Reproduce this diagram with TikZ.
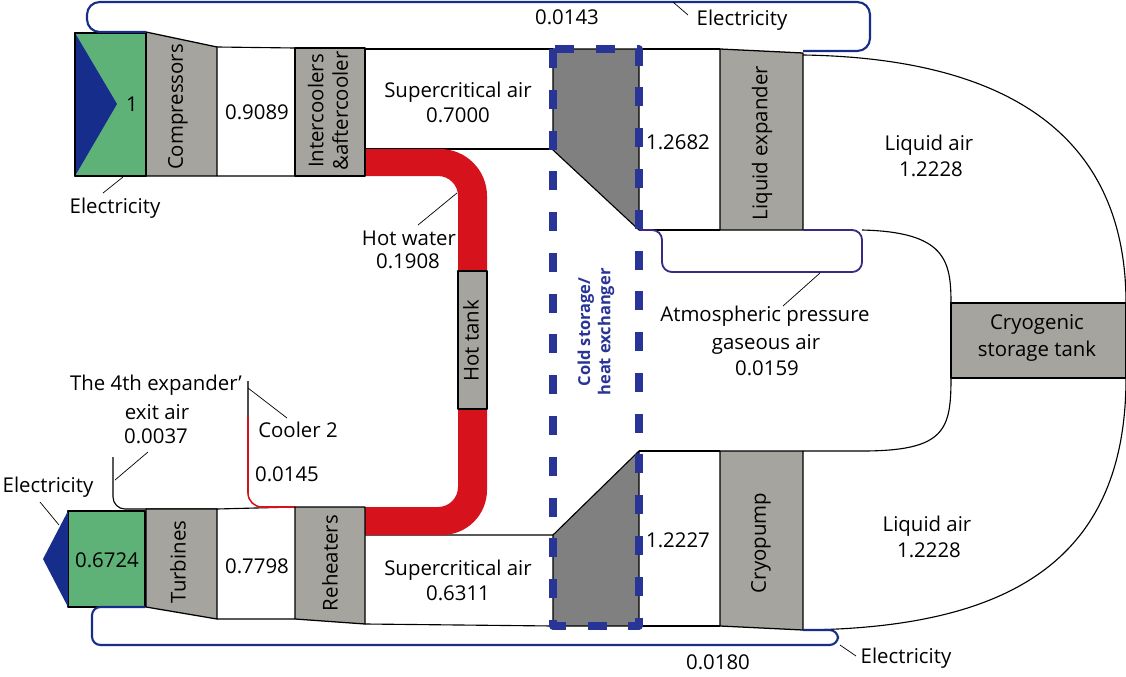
\documentclass[tikz,border=0pt]{standalone}
\usepackage{fontspec}
\setmainfont{Open Sans}
\definecolor{genGreen}{RGB}{94,178,120}
\definecolor{elecBlue}{RGB}{22,45,140}
\definecolor{unitGray}{RGB}{166,164,158}
\definecolor{hxGray}{RGB}{128,128,128}
\definecolor{hotRed}{RGB}{214,18,28}
\definecolor{coldBlue}{RGB}{40,52,150}
\definecolor{atmBlue}{RGB}{58,40,130}
\tikzset{
  flow/.style={draw=black, line width=0.8pt},
  unit/.style={fill=unitGray, draw=black, line width=0.9pt},
  gen/.style={fill=genGreen, draw=black, line width=0.9pt},
  hx/.style={fill=hxGray, draw=black, line width=0.8pt},
  hotpipe/.style={fill=hotRed},
  coolline/.style={draw=hotRed, line width=1.1pt},
  coldbox/.style={draw=coldBlue, line width=5pt, dash pattern=on 13.5pt off 15.5pt},
  elecline/.style={draw=elecBlue, line width=1.5pt},
  atmline/.style={draw=atmBlue, line width=1.3pt},
  leader/.style={draw=black, line width=0.5pt},
  lbl/.style={inner sep=0pt, align=center},
  vlbl/.style={lbl, rotate=90}
}
\begin{document}
\begin{tikzpicture}[x=0.025cm, y=-0.025cm, font=\fontsize{14.5}{17.5}\selectfont, line join=round]
  \useasboundingbox (0,0) rectangle (1126,677);
  \draw[flow] (217,47) -- (295,48) (217,176) -- (295,176);
  \draw[flow] (365,49) -- (553,49) (365,149) -- (553,149);
  \draw[flow] (639,49) -- (720,49) (639,230) -- (720,230);
  \draw[flow] (113,457) -- (113,497) arc (180:90:12) -- (217,509);
  \draw[flow] (217,509) -- (295,507) (217,619) -- (295,619);
  \draw[flow] (365,535) -- (553,535) (365,624) -- (553,626);
  \draw[flow] (639,451) -- (720,451) (639,626) -- (720,626);
  \draw[flow, draw=black!70] (248,381) -- (248,417);
  \draw[coolline] (248,417) -- (248,493) arc (180:90:14) -- (295,507);
  \draw[flow] (803,55) .. controls (1000,58) and (1126,130) .. (1126,303);
  \draw[flow] (862,230) .. controls (945,232) and (951,260) .. (951,303);
  \draw[flow] (951,378) .. controls (951,430) and (945,451) .. (862,451) -- (803,451);
  \draw[flow] (1126,378) .. controls (1126,560) and (1010,628) .. (803,630);
  \fill[hotpipe] (365,149) -- (440,149) arc (-90:0:47) -- (487,271) -- (458,271)
    -- (458,196) arc (0:-90:20) -- (365,176) -- cycle;
  \fill[hotpipe] (458,409) -- (487,409) -- (487,490) arc (0:90:45) -- (365,535)
    -- (365,507) -- (438,507) arc (90:0:20) -- cycle;
  \filldraw[unit] (146,32) -- (217,47) -- (217,176) -- (146,176) -- cycle;
  \filldraw[unit] (295,48) rectangle (365,176);
  \filldraw[unit] (720,49) -- (803,53) -- (803,230) -- (720,230) -- cycle;
  \filldraw[unit] (458,271) rectangle (487,409);
  \filldraw[unit] (146,509) -- (217,509) -- (217,619) -- (146,607) -- cycle;
  \filldraw[unit] (295,507) -- (365,507) -- (365,624) -- (295,619) -- cycle;
  \filldraw[unit] (720,451) -- (803,451) -- (803,630) -- (720,626) -- cycle;
  \filldraw[unit] (951,303) rectangle (1126,378);
  \filldraw[gen] (75,33) rectangle (146,176);
  \fill[elecBlue] (75,33) -- (117,104) -- (75,176) -- cycle;
  \draw[line width=0.9pt] (75,33) rectangle (146,176);
  \filldraw[gen] (68,511) rectangle (145,607);
  \fill[elecBlue] (68,511) -- (43,559) -- (68,607) -- cycle;
  \filldraw[hx] (553,49) -- (639,49) -- (639,230) -- (553,150) -- cycle;
  \filldraw[hx] (553,535) -- (639,451) -- (639,626) -- (553,626) -- cycle;
  \draw[coldbox] (553,49) rectangle (639,626);
  \draw[elecline, rounded corners=9pt] (146,32) -- (87,32) -- (87,2) -- (870,2) -- (870,51) -- (803,51);
  \draw[elecline, rounded corners=6pt] (145,607) -- (92,607) -- (92,645) -- (838,645) -- (838,630) -- (803,630);
  \draw[atmline, rounded corners=7pt] (639,230) -- (662,230) -- (662,272) -- (862,272) -- (862,230) -- (803,230);

  \node[lbl] (inA) at (132,104) {1};
  \node[vlbl] (cmp) at (178,107) {Compressors};
  \node[lbl] (mA) at (257,112) {0.9089};
  \node[vlbl] (icl) at (328,111) {Intercoolers\\\&aftercooler};
  \node[lbl] (elA) at (115,208) {Electricity};
  \node[lbl] (elTop) at (567,17) {0.0143};
  \node[lbl] (elB) at (742,20) {Electricity};
  \node[lbl] (scA) at (458,92) {Supercritical air};
  \node[lbl] (scAv) at (458,115) {0.7000};
  \node[lbl] (hxA) at (678,142) {1.2682};
  \node[vlbl] (lex) at (762,143) {Liquid expander};
  \node[lbl] (laA) at (929,145) {Liquid air};
  \node[lbl] (laAv) at (931,169) {1.2228};
  \node[lbl] (hw) at (409,238) {Hot water};
  \node[lbl] (hwv) at (408,261) {0.1908};
  \node[vlbl] (htk) at (471,341) {Hot tank};
  \node[vlbl, font=\fontsize{11.7}{14.5}\selectfont\bfseries, text=coldBlue] (cold) at (596,332) {Cold storage/\\heat exchanger};
  \node[lbl] (atm) at (765,316) {Atmospheric pressure};
  \node[lbl] (atmb) at (766,344) {gaseous air};
  \node[lbl] (atmv) at (767,368) {0.0159};
  \node[lbl] (cst) at (1037,324) {Cryogenic};
  \node[lbl] (cstb) at (1037,351) {storage tank};
  \node[lbl] (xa) at (156,385) {The 4th expander'};
  \node[lbl] (xab) at (157,412) {exit air};
  \node[lbl] (xav) at (156,436) {0.0037};
  \node[lbl] (cl2) at (298,430) {Cooler 2};
  \node[lbl] (cl2v) at (287,474) {0.0145};
  \node[lbl] (elC) at (48,487) {Electricity};
  \node[lbl] (outB) at (107,560) {0.6724};
  \node[vlbl] (trb) at (178,562) {Turbines};
  \node[lbl] (mB) at (257,566) {0.7798};
  \node[vlbl] (rht) at (330,563) {Reheaters};
  \node[lbl] (scB) at (458,570) {Supercritical air};
  \node[lbl] (scBv) at (458,593) {0.6311};
  \node[lbl] (hxB) at (678,540) {1.2227};
  \node[vlbl] (cpp) at (761,543) {Cryopump};
  \node[lbl] (laB) at (927,526) {Liquid air};
  \node[lbl] (laBv) at (929,550) {1.2228};
  \node[lbl] (elBot) at (718,662) {0.0180};
  \node[lbl] (elD) at (906,658) {Electricity};

  \coordinate (elAa) at (123,177);
  \coordinate (elAb) at (103,193);
  \coordinate (elBa) at (673,2);
  \coordinate (elBb) at (688,15);
  \coordinate (hwa) at (457,193);
  \coordinate (hwb) at (418,225);
  \coordinate (atma) at (820,273);
  \coordinate (atmb') at (783,306);
  \coordinate (xaa) at (115,480);
  \coordinate (xab') at (148,452);
  \coordinate (cla) at (248,388);
  \coordinate (clb) at (287,418);
  \coordinate (elCa) at (59,525);
  \coordinate (elCb) at (40,502);
  \coordinate (elDa) at (840,645);
  \coordinate (elDb) at (856,656);
  \draw[leader] (elAa) -- (elAb);
  \draw[leader] (elBa) -- (elBb);
  \draw[leader] (hwa) -- (hwb);
  \draw[leader] (atma) -- (atmb');
  \draw[leader] (xaa) -- (xab');
  \draw[leader] (cla) -- (clb);
  \draw[leader] (elCa) -- (elCb);
  \draw[leader] (elDa) -- (elDb);
\end{tikzpicture}
\end{document}
